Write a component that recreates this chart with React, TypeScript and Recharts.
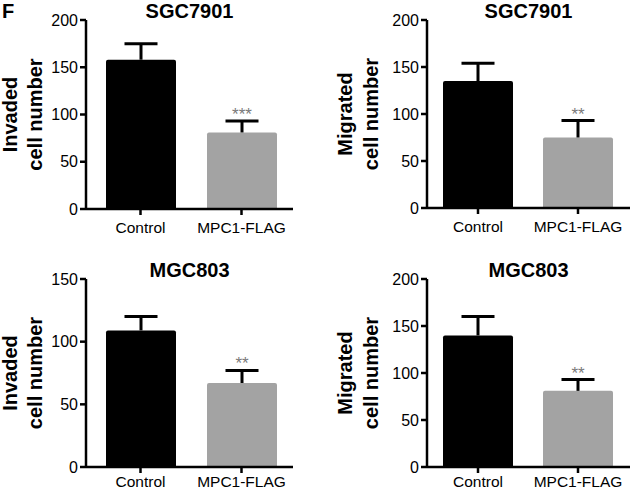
import React from 'react';
import { BarChart, Bar, XAxis, YAxis, Cell, LabelList, Label } from 'recharts';

const groups = ['Control', 'MPC1-FLAG'];
const barColors = ['#000000', '#a3a3a3'];

const sgcInvaded = [158, 81];
const sgcInvadedErr = [17, 12];
const sgcInvadedSig = ['', '***'];

const sgcMigrated = [135, 75];
const sgcMigratedErr = [19, 18];
const sgcMigratedSig = ['', '**'];

const mgcInvaded = [109, 67];
const mgcInvadedErr = [11, 10];
const mgcInvadedSig = ['', '**'];

const mgcMigrated = [140, 81];
const mgcMigratedErr = [20, 12];
const mgcMigratedSig = ['', '**'];

const ticks200 = [0, 50, 100, 150, 200];
const ticks150 = [0, 50, 100, 150];

const FONT = '"Liberation Sans", Arial, sans-serif';

const toRows = (vals: number[], errs: number[], sig: string[]) =>
  groups.map((g, i) => ({ name: g, value: vals[i], err: errs[i], sig: sig[i] }));

// upper half of the error bar only (GraphPad style)
const ErrorCap = (props: any) => {
  const { x, y, width, height } = props;
  const cx = x + width / 2;
  return (
    <g>
      <line x1={cx} x2={cx} y1={y + height} y2={y} stroke="#000" strokeWidth={3} />
      <line x1={cx - 16.5} x2={cx + 16.5} y1={y} y2={y} stroke="#000" strokeWidth={3} />
    </g>
  );
};

// y axis title (two lines) plus the panel title above the plot
const AxisTitle = ({ viewBox, lines, baselines, title, plotW }: any) => {
  const { x, y, width, height } = viewBox;
  const cy = y + height / 2;
  return (
    <g fontFamily={FONT} fontWeight="bold" fontSize={20} fill="#000">
      {lines.map((t: string, i: number) => (
        <text key={t} transform={`translate(${x + baselines[i]},${cy}) rotate(-90)`} textAnchor="middle">
          {t}
        </text>
      ))}
      <text x={x + width + plotW / 2} y={y - 2} textAnchor="middle">
        {title}
      </text>
    </g>
  );
};

interface PanelProps {
  title: string;
  rows: any[];
  ticks: number[];
  labelLines: string[];
  baselines: number[];
  axisWidth: number;
  top: number;
  xHeight: number;
  right: number;
  pad: { left: number; right: number };
  tickGap: number;
}

function Panel({ title, rows, ticks, labelLines, baselines, axisWidth, top, xHeight, right, pad, tickGap }: PanelProps) {
  const plotW = 315 - axisWidth - right;
  return (
    <BarChart width={315} height={246} data={rows} margin={{ top, right, left: 0, bottom: 0 }} barSize={70}>
      <XAxis
        dataKey="name"
        height={xHeight}
        padding={pad}
        axisLine={{ stroke: '#000', strokeWidth: 2.5 }}
        tickLine={{ stroke: '#000', strokeWidth: 2.5 }}
        tickSize={6}
        tickMargin={tickGap}
        tick={{ fill: '#000', fontSize: 15.5, fontFamily: FONT }}
        interval={0}
      />
      <YAxis
        width={axisWidth}
        domain={[0, ticks[ticks.length - 1]]}
        ticks={ticks}
        interval={0}
        axisLine={{ stroke: '#000', strokeWidth: 2.5 }}
        tickLine={{ stroke: '#000', strokeWidth: 2.5 }}
        tickSize={6}
        tickMargin={2}
        tick={{ fill: '#000', fontSize: 16, fontFamily: FONT }}
      >
        <Label
          content={(p: any) => (
            <AxisTitle {...p} lines={labelLines} baselines={baselines} title={title} plotW={plotW} />
          )}
        />
      </YAxis>
      <Bar dataKey="value" stackId="a" isAnimationActive={false} radius={[2, 2, 0, 0]}>
        {rows.map((r, i) => (
          <Cell key={r.name} fill={barColors[i]} />
        ))}
      </Bar>
      <Bar dataKey="err" stackId="a" isAnimationActive={false} shape={<ErrorCap />}>
        <LabelList dataKey="sig" position="top" offset={1} fill="#7a7a7a" fontSize={17} fontFamily={FONT} />
      </Bar>
    </BarChart>
  );
}

export default function App() {
  return (
    <div style={{ position: 'absolute', top: 0, left: 0, width: 630, height: 492, background: '#fff', overflow: 'hidden' }}>
      <div style={{ position: 'absolute', left: 0, top: 0 }}>
        <Panel
          title="SGC7901"
          rows={toRows(sgcInvaded, sgcInvadedErr, sgcInvadedSig)}
          ticks={ticks200}
          labelLines={['Invaded', 'cell number']}
          baselines={[17, 42]}
          axisWidth={86}
          top={20}
          xHeight={37}
          right={22}
          pad={{ left: 4, right: 1 }}
          tickGap={7}
        />
      </div>
      <div style={{ position: 'absolute', left: 315, top: 0 }}>
        <Panel
          title="SGC7901"
          rows={toRows(sgcMigrated, sgcMigratedErr, sgcMigratedSig)}
          ticks={ticks200}
          labelLines={['Migrated', 'cell number']}
          baselines={[37, 63]}
          axisWidth={112}
          top={20}
          xHeight={38}
          right={0}
          pad={{ left: 1, right: 2 }}
          tickGap={7}
        />
      </div>
      <div style={{ position: 'absolute', left: 0, top: 246 }}>
        <Panel
          title="MGC803"
          rows={toRows(mgcInvaded, mgcInvadedErr, mgcInvadedSig)}
          ticks={ticks150}
          labelLines={['Invaded', 'cell number']}
          baselines={[17, 42]}
          axisWidth={86}
          top={33}
          xHeight={25}
          right={22}
          pad={{ left: 4, right: 1 }}
          tickGap={3}
        />
      </div>
      <div style={{ position: 'absolute', left: 315, top: 246 }}>
        <Panel
          title="MGC803"
          rows={toRows(mgcMigrated, mgcMigratedErr, mgcMigratedSig)}
          ticks={ticks200}
          labelLines={['Migrated', 'cell number']}
          baselines={[37, 63]}
          axisWidth={112}
          top={33}
          xHeight={25}
          right={0}
          pad={{ left: 1, right: 2 }}
          tickGap={3}
        />
      </div>
      <div
        style={{
          position: 'absolute',
          left: 2,
          top: 1,
          fontFamily: FONT,
          fontWeight: 'bold',
          fontSize: 20,
          lineHeight: '20px',
        }}
      >
        F
      </div>
    </div>
  );
}
